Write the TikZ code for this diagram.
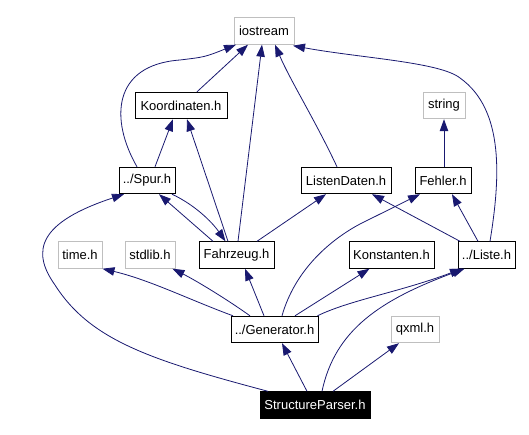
\documentclass[tikz,border=0pt]{standalone}
\usepackage{fontspec}
\setmainfont{Liberation Sans}
\usetikzlibrary{arrows.meta}
\definecolor{edgeblue}{HTML}{191970}
\definecolor{extgrey}{HTML}{BFBFBF}
\begin{document}
\begin{tikzpicture}[x=1pt,y=-1pt,
  box/.style={draw=black,line width=0.9pt,inner sep=0pt,minimum height=26.5pt,font=\fontsize{13}{15}\selectfont,fill=white},
  extbox/.style={box,draw=extgrey},
  rootbox/.style={box,fill=black,text=white},
  dep/.style={draw=edgeblue,line width=0.8pt,-{Triangle[length=12pt,width=8.5pt]}}
]
\useasboundingbox (0,0) rectangle (529,435);
% nodes
\node[extbox,minimum width=60pt] (io) at (264,31) {iostream};
\node[box,minimum width=92pt] (ko) at (181,105.5) {Koordinaten.h};
\node[extbox,minimum width=42pt] (st) at (444,105.5) {string};
\node[box,minimum width=56pt] (sp) at (147,180.5) {../Spur.h};
\node[box,minimum width=90pt] (ld) at (346,180.5) {ListenDaten.h};
\node[box,minimum width=56pt] (fe) at (443,180.5) {Fehler.h};
\node[extbox,minimum width=44pt] (ti) at (80,255) {time.h};
\node[extbox,minimum width=50pt] (sl) at (150,255) {stdlib.h};
\node[box,minimum width=75pt] (fz) at (236.5,255) {Fahrzeug.h};
\node[box,minimum width=85pt] (kn) at (391.5,255) {Konstanten.h};
\node[box,minimum width=57pt] (li) at (486.5,255) {../Liste.h};
\node[box,minimum width=87pt] (ge) at (274.5,329.5) {../Generator.h};
\node[extbox,minimum width=48pt] (qx) at (415,329.5) {qxml.h};
\node[rootbox,minimum width=110pt] (spr) at (315,405) {StructureParser.h};
% edges to iostream
\draw[dep] ([xshift=16pt]ko.north) -- ([xshift=-16pt]io.south);
\draw[dep] ([xshift=-10pt]sp.north) .. controls (110,120) and (112,65) .. (180,60) .. controls (205,57) .. ([xshift=-28pt]io.south);
\draw[dep] ([xshift=1.5pt]fz.north) -- ([xshift=-2pt]io.south);
\draw[dep] ([xshift=-9pt]ld.north) .. controls (315,120) and (290,80) .. ([xshift=11pt]io.south);
\draw[dep] ([xshift=3.5pt]li.north) .. controls (500,180) and (505,110) .. (460,78) .. controls (440,62) and (360,58) .. ([xshift=29pt,yshift=-1pt]io.south);
% to Koordinaten
\draw[dep] ([xshift=8pt]sp.north) -- ([xshift=-8pt]ko.south);
\draw[dep] ([xshift=-8.5pt]fz.north) -- ([xshift=6pt]ko.south);
% to string
\draw[dep] ([xshift=1pt]fe.north) -- (st.south);
% Spur <-> Fahrzeug
\draw[dep] ([xshift=-23.5pt]fz.north) -- ([xshift=12pt]sp.south);
\draw[dep] ([xshift=25pt]sp.south) .. controls (195,205) and (212,222) .. ([xshift=-11pt]fz.north);
% to ListenDaten
\draw[dep] ([xshift=20.5pt]fz.north) -- ([xshift=-20pt]ld.south);
\draw[dep] ([xshift=-26.5pt]li.north) -- ([xshift=26pt]ld.south);
% to Fehler
\draw[dep] ([xshift=-8.5pt]li.north) -- ([xshift=9pt]fe.south);
\draw[dep] ([xshift=7.5pt]ge.north) .. controls (295,270) and (330,240) .. (360,224) -- ([xshift=-23pt]fe.south);
% from Generator
\draw[dep] ([xshift=-41.5pt]ge.north) .. controls (190,300) and (150,280) .. (ti.south east);
\draw[dep] ([xshift=-24.5pt]ge.north) .. controls (225,298) and (195,280) .. ([xshift=-3pt]sl.south east);
\draw[dep] ([xshift=-10.5pt]ge.north) -- ([xshift=8.5pt]fz.south);
\draw[dep] ([xshift=20.5pt]ge.north) -- ([xshift=-22pt]kn.south);
\draw[dep] ([xshift=-1pt]ge.north east) .. controls (350,300) and (400,292) .. ([xshift=-24.5pt]li.south);
% from StructureParser
\draw[dep] ([xshift=-8pt]spr.north) -- ([xshift=7.5pt]ge.south);
\draw[dep] ([xshift=7pt]spr.north) .. controls (335,330) and (380,300) .. ([xshift=-22pt]li.south);
\draw[dep] ([xshift=18pt]spr.north) -- ([xshift=-16pt]qx.south);
\draw[dep] ([xshift=-47pt]spr.north) .. controls (150,360) and (90,340) .. (55,285) .. controls (30,250) and (40,222) .. ([xshift=-23pt]sp.south);
\end{tikzpicture}
\end{document}
